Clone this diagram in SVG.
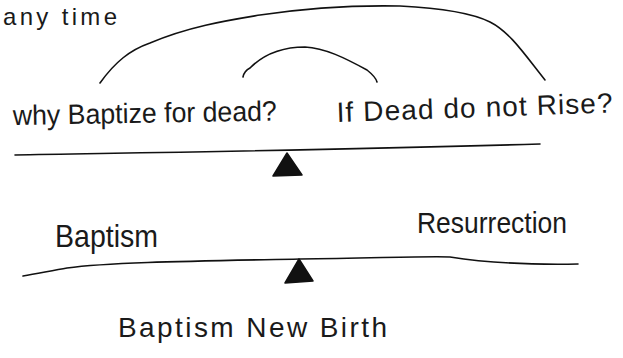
<svg xmlns="http://www.w3.org/2000/svg" width="623" height="358" viewBox="0 0 623 358">
<style>
.t{font-family:"Liberation Sans","DejaVu Sans",sans-serif;fill:#1a1a1a}
.ln{fill:none;stroke:#111;stroke-width:1.6;stroke-linecap:round}
.fc{fill:#111;stroke:#111;stroke-width:1.5;stroke-linejoin:round}
</style>
<rect width="623" height="358" fill="#fff"/>
<g id="connectors">
<path class="ln" d="M100,83 C115,62 130,50 150,43 C190,26 230,20 260,15 C300,9 350,5 400,6 C440,8 470,12 490,22 C510,32 525,55 545,80"/>
<path class="ln" d="M243,77 C244,72 246,70 250,68 C265,53 285,47 305,47 C325,48 345,58 367,70 C372,74 376,78 377,82"/>
<path class="ln" d="M15,155 C120,153 300,151 540,144"/>
<path class="ln" d="M23,276 C40,273 55,270 67,268 C110,262 200,261 300,259 C380,258 430,256 450,257 C475,261 520,265 578,264"/>
</g>
<g id="node-anytime"><text class="t" x="3" y="25" font-size="24" textLength="114" lengthAdjust="spacing">any time</text></g>
<g id="node-why"><text class="t" x="13" y="125" font-size="28" textLength="264" lengthAdjust="spacingAndGlyphs" transform="rotate(-1 13 125)">why Baptize for dead?</text></g>
<g id="node-if"><text class="t" x="337" y="122" font-size="28" textLength="276" lengthAdjust="spacing" transform="rotate(-2 337 122)">If Dead do not Rise?</text></g>
<g id="node-fulcrum1"><polygon class="fc" points="287,153 273,176 302,175"/></g>
<g id="node-baptism"><text class="t" x="55" y="247" font-size="32" textLength="103" lengthAdjust="spacingAndGlyphs">Baptism</text></g>
<g id="node-resurrection"><text class="t" x="417" y="233" font-size="30" textLength="150" lengthAdjust="spacingAndGlyphs">Resurrection</text></g>
<g id="node-fulcrum2"><polygon class="fc" points="299,259 285,283 313,281"/></g>
<g id="node-newbirth"><text class="t" x="118" y="337" font-size="28" textLength="269" lengthAdjust="spacing">Baptism New Birth</text></g>
</svg>
